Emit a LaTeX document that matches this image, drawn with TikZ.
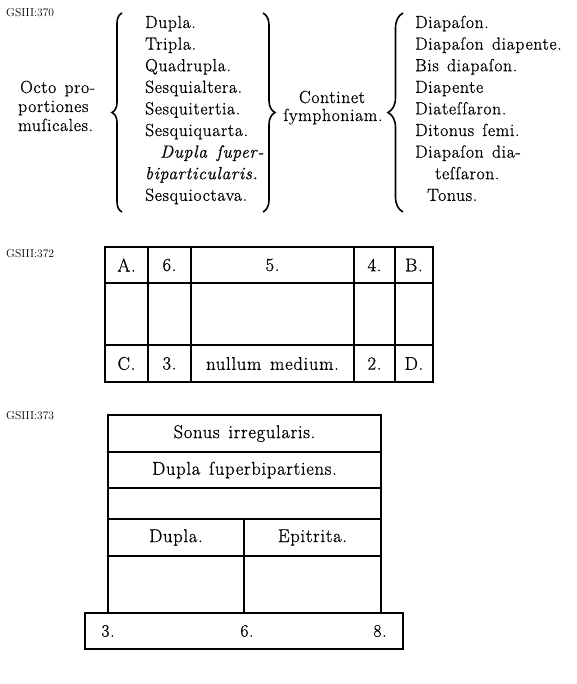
\documentclass[tikz,border=0pt]{standalone}
\usepackage{fontspec}
\newfontfamily\oldface{Latin Modern Roman}[LetterSpace=4, WordSpace=1.4, FakeBold=0.8]
\usetikzlibrary{decorations.pathreplacing}
\begin{document}
\begin{tikzpicture}[x=1pt, y=-1pt,
  txt/.style={inner sep=0pt, anchor=base west, font=\oldface\fontsize{17.5}{20}\selectfont},
  itl/.style={txt, font=\oldface\fontsize{17.5}{20}\selectfont\itshape},
  tag/.style={inner sep=0pt, anchor=base west, font=\fontsize{11.5}{12}\selectfont},
  brc/.style={decorate, decoration={brace, amplitude=#1}, line width=1.6pt},
  cell/.style={draw, line width=1.2pt, inner sep=0pt, font=\oldface\fontsize{18.5}{20}\selectfont}
]
  \useasboundingbox (0,0) rectangle (576,684);

  % GSIII:370
  \node[tag] (t370) at (6,17) {GSIII:370};
  \node[txt] (o1) at (20,93) {Octo pro-};
  \node[txt] (o2) at (18,112) {portiones};
  \node[txt] (o3) at (18,131) {muſicales.};

  \coordinate (b1t) at (122,13);
  \coordinate (b1b) at (122,212);
  \draw[brc=10] (b1b) -- (b1t);

  \node[txt] (p1) at (145,28) {Dupla.};
  \node[txt] (p2) at (145,49.6) {Tripla.};
  \node[txt] (p3) at (145,71.2) {Quadrupla.};
  \node[txt] (p4) at (145,92.8) {Sesquialtera.};
  \node[txt] (p5) at (145,114.4) {Sesquitertia.};
  \node[txt] (p6) at (145,136) {Sesquiquarta.};
  \node[itl] (p7) at (160,157.6) {Dupla ſuper-};
  \node[itl] (p8) at (145,179.2) {biparticularis.};
  \node[txt] (p9) at (145,200.8) {Sesquioctava.};

  \coordinate (b2t) at (263,13);
  \coordinate (b2b) at (263,212);
  \draw[brc=12] (b2t) -- (b2b);

  \node[txt, anchor=base] (cont1) at (332,103) {Continet};
  \node[txt, anchor=base] (cont2) at (333,121) {ſymphoniam.};

  \coordinate (b3t) at (403,13);
  \coordinate (b3b) at (403,212);
  \draw[brc=15] (b3b) -- (b3t);

  \node[txt] (s1) at (415,28) {Diapaſon.};
  \node[txt] (s2) at (415,49.6) {Diapaſon diapente.};
  \node[txt] (s3) at (415,71.2) {Bis diapaſon.};
  \node[txt] (s4) at (415,92.8) {Diapente};
  \node[txt] (s5) at (415,114.4) {Diateſſaron.};
  \node[txt] (s6) at (415,136) {Ditonus ſemi.};
  \node[txt] (s7) at (415,157.6) {Diapaſon dia-};
  \node[txt] (s8) at (435,179.2) {teſſaron.};
  \node[txt] (s9) at (427,200.8) {Tonus.};

  % GSIII:372
  \node[tag] (t372) at (6,258) {GSIII:372};
  \foreach \xl/\xr/\yt/\yb/\lbl [count=\i] in {
      105/148/247/283/A., 148/191/247/283/6., 191/354/247/283/5., 354/395/247/283/4., 395/433/247/283/B.,
      105/148/283/345/, 148/191/283/345/, 191/354/283/345/, 354/395/283/345/, 395/433/283/345/,
      105/148/345/382/C., 148/191/345/382/3., 191/354/345/382/nullum medium., 354/395/345/382/2., 395/433/345/382/D.}
    \node[cell, minimum width=\xr-\xl, minimum height=\yb-\yt] (g\i) at ({(\xl+\xr)/2},{(\yt+\yb)/2}) {\lbl};

  % GSIII:373
  \node[tag] (t373) at (6,419) {GSIII:373};
  \foreach \xl/\xr/\yt/\yb/\lbl [count=\i] in {
      108/381/415/452/Sonus irregularis., 108/381/452/488/Dupla ſuperbipartiens., 108/381/488/519/,
      108/244/519/556/Dupla., 244/381/519/556/Epitrita.,
      108/244/556/613/, 244/381/556/613/}
    \node[cell, minimum width=\xr-\xl, minimum height=\yb-\yt] (h\i) at ({(\xl+\xr)/2},{(\yt+\yb)/2}) {\lbl};
  \node[cell, minimum width=318, minimum height=36] (base) at (244,631) {};
  \node[txt, anchor=center] (n3) at (108,631) {3.};
  \node[txt, anchor=center] (n6) at (247,631) {6.};
  \node[txt, anchor=center] (n8) at (380,631) {8.};
\end{tikzpicture}
\end{document}
